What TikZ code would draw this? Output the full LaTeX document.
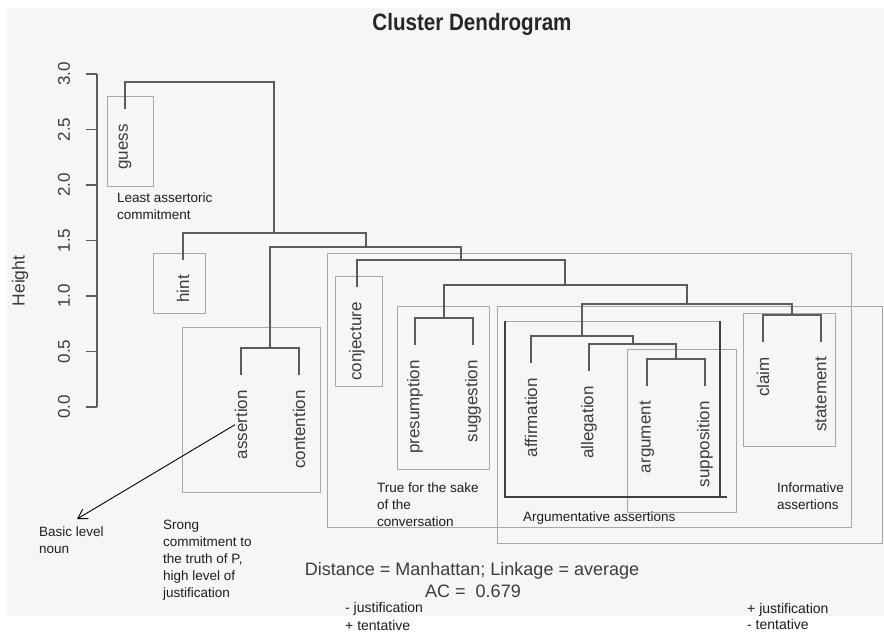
\documentclass[tikz,border=0pt]{standalone}
\usepackage{fontspec}
\setmainfont{Liberation Sans}
\usetikzlibrary{arrows.meta}
\definecolor{panel}{HTML}{F6F6F6}
\definecolor{linkgray}{HTML}{5C5C5C}
\definecolor{boxgray}{HTML}{A8A8A8}
\definecolor{labelgray}{HTML}{3C3C3C}
\definecolor{notegray}{HTML}{1E1E1E}

\begin{document}
\begin{tikzpicture}[x=1pt,y=-1pt,
  link/.style={draw=linkgray, line width=2pt},
  axisline/.style={draw=linkgray, line width=1.6pt},
  groupbox/.style={draw=boxgray, line width=1pt},
  darkbox/.style={draw=black!75, line width=1.1pt},
  leaf/.style={rotate=90, anchor=east, inner sep=0pt, text=labelgray, font=\fontsize{17}{17}\selectfont},
  tick/.style={rotate=90, inner sep=0pt, text=labelgray, font=\fontsize{17}{17}\selectfont},
  note/.style={anchor=north west, align=left, inner sep=0pt, text=notegray, font=\fontsize{13.5}{17}\selectfont},
  stat/.style={inner sep=0pt, text=labelgray, font=\fontsize{18}{18}\selectfont},
]
% page and plotting panel
\fill[white] (0,0) rectangle (884,634);
\fill[panel] (7,8) rectangle (884,616);
\useasboundingbox (0,0) rectangle (884,634);

% title
\node[font=\bfseries\fontsize{20.6}{21}\selectfont, text=black!85] (title) at (472,24) {\scalebox{1}[1.15]{Cluster Dendrogram}};

% height axis
\draw[axisline] (97,74) -- (97,407);
\foreach \v/\y [count=\i] in {0.0/407,0.5/351.5,1.0/296,1.5/240.5,2.0/185,2.5/129.5,3.0/74} {
  \draw[axisline] (86,\y) -- (97,\y);
  \node[tick] (tick\i) at (64,\y) {\v};
}
\node[tick, font=\fontsize{17.5}{17.5}\selectfont] (ylab) at (20,281) {Height};

% group boxes
\draw[groupbox] (107,97) rectangle (153,186);
\draw[groupbox] (153,253) rectangle (205,313);
\draw[groupbox] (182,327) rectangle (320,492);
\draw[groupbox] (335,276) rectangle (382,386);
\draw[groupbox] (327,253) rectangle (851,527);
\draw[groupbox] (397,306) rectangle (489,469);
\draw[groupbox] (497,306) rectangle (882,543);
\draw[groupbox] (627,349) rectangle (736,512);
\draw[groupbox] (743,313) rectangle (835,446);
\draw[groupbox] (505,321) -- (720,321);
\draw[darkbox] (505,321) -- (505,497) -- (727,497);
\draw[darkbox] (720,321) -- (720,497);

% leaves: stem ends and labels
\foreach \name/\x/\y in {guess/125/109, hint/183/260, assertion/241/375, contention/299/375,
  conjecture/357/287, presumption/415/345, suggestion/473/345, affirmation/531/363,
  allegation/589/371, argument/647/386, supposition/705/386, claim/763/342, statement/821/342} {
  \coordinate (\name) at (\x,\y);
  \node[leaf] (lab-\name) at (\x,\y+15) {\name};
}

% merge points
\coordinate (m1) at (199.7,82);
\coordinate (m2) at (274.3,233);
\coordinate (m3) at (365.6,247);
\coordinate (m4) at (270,348);
\coordinate (m5) at (461.2,260);
\coordinate (m6) at (565.4,285);
\coordinate (m7) at (444,318);
\coordinate (m8) at (686.9,304);
\coordinate (m9) at (581.75,336);
\coordinate (m10) at (632.5,344);
\coordinate (m11) at (676,359);
\coordinate (m12) at (792,315);

% dendrogram links
\draw[link] (assertion) |- (m4) -| (contention);
\draw[link] (presumption) |- (m7) -| (suggestion);
\draw[link] (argument) |- (m11) -| (supposition);
\draw[link] (allegation) |- (m10) -| (m11);
\draw[link] (affirmation) |- (m9) -| (m10);
\draw[link] (claim) |- (m12) -| (statement);
\draw[link] (m9) |- (m8) -| (m12);
\draw[link] (m7) |- (m6) -| (m8);
\draw[link] (conjecture) |- (m5) -| (m6);
\draw[link] (m4) |- (m3) -| (m5);
\draw[link] (hint) |- (m2) -| (m3);
\draw[link] (guess) |- (m1) -| (m2);

% annotations
\node[note] (n-least) at (117,193) {Least assertoric\\commitment};
\node[note] (n-true) at (377,483) {True for the sake\\of the\\conversation};
\node[note] (n-arg) at (523,512) {Argumentative assertions};
\node[note] (n-info) at (777,483) {Informative\\assertions};
\node[note] (n-basic) at (39,527) {Basic level\\noun};
\node[note] (n-strong) at (163,520) {Srong\\commitment to\\the truth of P,\\high level of\\justification};
\coordinate (basic-tip) at (77,519);
\draw[-{Straight Barb[length=9pt,width=11pt]}, line width=0.9pt, black] ([xshift=-6pt]lab-assertion.center) -- (basic-tip);

% clustering statistics
\node[stat] (dist) at (472,571) {Distance = Manhattan; Linkage = average};
\node[stat] (ac) at (473,591) {AC = \ 0.679};
\node[note, font=\fontsize{14}{18}\selectfont] (n-left) at (345,602) {- justification\\+ tentative};
\node[note, font=\fontsize{14}{16.5}\selectfont] (n-right) at (747,603) {+ justification\\- tentative};
\end{tikzpicture}
\end{document}
